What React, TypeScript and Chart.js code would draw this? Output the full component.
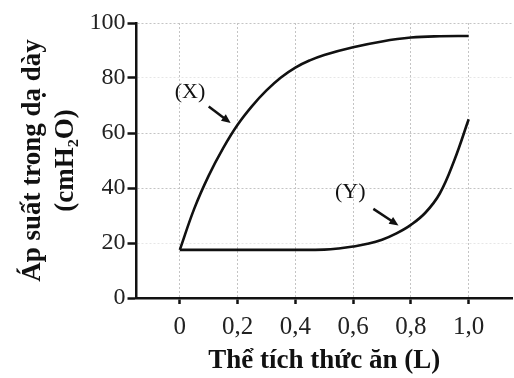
import React, { useEffect, useRef } from "react";
import { Chart, registerables } from "chart.js";

Chart.register(...registerables);

// Curve (X)
const volumeX = [0, 0.05, 0.1, 0.15, 0.2, 0.25, 0.3, 0.35, 0.4, 0.45, 0.5, 0.6, 0.7, 0.8, 0.9, 1.0];
const pressureX = [17.5, 32.5, 44.5, 54.5, 63, 69.8, 75.5, 80.2, 83.8, 86.4, 88.4, 91.2, 93.3, 94.7, 95.2, 95.3];

// Curve (Y)
const volumeY = [0, 0.1, 0.2, 0.3, 0.4, 0.5, 0.55, 0.6, 0.65, 0.7, 0.75, 0.8, 0.85, 0.9, 0.95, 1.0];
const pressureY = [17.5, 17.5, 17.5, 17.5, 17.5, 17.6, 18, 18.7, 19.7, 21.2, 23.5, 26.6, 31, 38, 50, 65];

const xTickValues = [0, 0.2, 0.4, 0.6, 0.8, 1.0];
const xTickLabels = ["0", "0,2", "0,4", "0,6", "0,8", "1,0"];
const yTickValues = [0, 20, 40, 60, 80, 100];

const xAxisTitle = "Thể tích thức ăn (L)";
const yAxisTitle = ["Áp suất trong dạ dày", "(cmH₂O)"];

// Annotations: label text, label position, arrow start, arrow end (data units)
const annotLabels = ["(X)", "(Y)"];
const annotLabelPos = [[0.035, 75], [0.59, 38.3]];
const annotArrowFrom = [[0.1, 69.6], [0.67, 32.4]];
const annotArrowTo = [[0.176, 63.6], [0.757, 26.4]];

const SERIF = "'Liberation Serif', 'Times New Roman', serif";

const annotationPlugin = {
  id: "annotations",
  afterDatasetsDraw(chart: any) {
    const ctx = chart.ctx;
    const xs = chart.scales.x;
    const ys = chart.scales.y;
    ctx.save();
    ctx.fillStyle = "#111";
    ctx.strokeStyle = "#111";
    ctx.font = `22px ${SERIF}`;
    ctx.textAlign = "center";
    ctx.textBaseline = "middle";
    annotLabels.forEach((lab, i) => {
      const lx = xs.getPixelForValue(annotLabelPos[i][0]);
      const ly = ys.getPixelForValue(annotLabelPos[i][1]);
      ctx.fillText(lab, lx, ly);
      const x1 = xs.getPixelForValue(annotArrowFrom[i][0]);
      const y1 = ys.getPixelForValue(annotArrowFrom[i][1]);
      const x2 = xs.getPixelForValue(annotArrowTo[i][0]);
      const y2 = ys.getPixelForValue(annotArrowTo[i][1]);
      const ang = Math.atan2(y2 - y1, x2 - x1);
      const head = 10;
      const hx = x2 - head * 0.8 * Math.cos(ang);
      const hy = y2 - head * 0.8 * Math.sin(ang);
      ctx.lineWidth = 2.5;
      ctx.beginPath();
      ctx.moveTo(x1, y1);
      ctx.lineTo(hx, hy);
      ctx.stroke();
      ctx.beginPath();
      ctx.moveTo(x2, y2);
      ctx.lineTo(x2 - head * Math.cos(ang - 0.42), y2 - head * Math.sin(ang - 0.42));
      ctx.lineTo(x2 - head * Math.cos(ang + 0.42), y2 - head * Math.sin(ang + 0.42));
      ctx.closePath();
      ctx.fill();
    });
    ctx.restore();
  },
};

export default function App() {
  const canvasRef = useRef<HTMLCanvasElement | null>(null);

  useEffect(() => {
    document.body.style.margin = "0";
    const canvas = canvasRef.current;
    if (!canvas) return;
    const chart = new Chart(canvas, {
      type: "scatter",
      data: {
        datasets: [
          {
            label: "X",
            data: volumeX.map((v, i) => ({ x: v, y: pressureX[i] })),
            showLine: true,
            borderColor: "#111",
            borderWidth: 2.6,
            pointRadius: 0,
            tension: 0.4,
            fill: false,
          },
          {
            label: "Y",
            data: volumeY.map((v, i) => ({ x: v, y: pressureY[i] })),
            showLine: true,
            borderColor: "#111",
            borderWidth: 2.6,
            pointRadius: 0,
            tension: 0.4,
            fill: false,
          },
        ],
      },
      options: {
        animation: false,
        responsive: false,
        maintainAspectRatio: false,
        layout: { padding: { top: 23, right: 2, left: 0, bottom: 0 } },
        plugins: {
          legend: { display: false },
          tooltip: { enabled: false },
        },
        scales: {
          x: {
            type: "linear",
            min: -0.15,
            max: 1.15,
            afterBuildTicks: (scale: any) => {
              scale.ticks = xTickValues.map((v) => ({ value: v }));
            },
            afterFit: (scale: any) => {
              scale.height = 80;
            },
            ticks: {
              autoSkip: false,
              maxRotation: 0,
              padding: 8,
              color: "#222",
              font: { family: SERIF, size: 25 },
              callback: (value: any) => {
                const idx = xTickValues.findIndex((t) => Math.abs(t - value) < 1e-9);
                return idx >= 0 ? xTickLabels[idx] : "";
              },
            },
            grid: {
              color: "#c4c4c4",
              lineWidth: 1,
              drawTicks: true,
              tickLength: 6,
              tickColor: "#111",
              tickWidth: 2.5,
              tickBorderDash: [],
            },
            border: { display: true, color: "#111", width: 2.5, dash: [2, 2] },
            title: {
              display: true,
              text: xAxisTitle,
              color: "#111",
              font: { family: SERIF, size: 27, weight: "bold", lineHeight: 1.2 },
              padding: { top: 0, bottom: 1 },
            },
          },
          y: {
            type: "linear",
            min: 0,
            max: 100,
            afterBuildTicks: (scale: any) => {
              scale.ticks = yTickValues.map((v) => ({ value: v }));
            },
            afterFit: (scale: any) => {
              scale.width = 136.5;
            },
            ticks: {
              padding: 2,
              color: "#222",
              font: { family: SERIF, size: 24 },
            },
            grid: {
              color: (c: any) =>
                c.tick && (c.tick.value === 80 || c.tick.value === 20) ? "#e6e6e6" : "#c4c4c4",
              lineWidth: 1,
              drawTicks: true,
              tickLength: 9,
              tickColor: "#111",
              tickWidth: 2.5,
              tickBorderDash: [],
            },
            border: { display: true, color: "#111", width: 2.5, dash: [2, 2] },
            title: {
              display: true,
              text: yAxisTitle,
              color: "#111",
              font: { family: SERIF, size: 27, weight: "bold", lineHeight: 1.2 },
              padding: { top: 17, bottom: 0 },
            },
          },
        },
      },
      plugins: [annotationPlugin],
    });
    return () => chart.destroy();
  }, []);

  return (
    <div style={{ position: "absolute", left: 0, top: 0, width: 514, height: 378 }}>
      <canvas ref={canvasRef} width={514} height={378} style={{ width: 514, height: 378 }} />
    </div>
  );
}
